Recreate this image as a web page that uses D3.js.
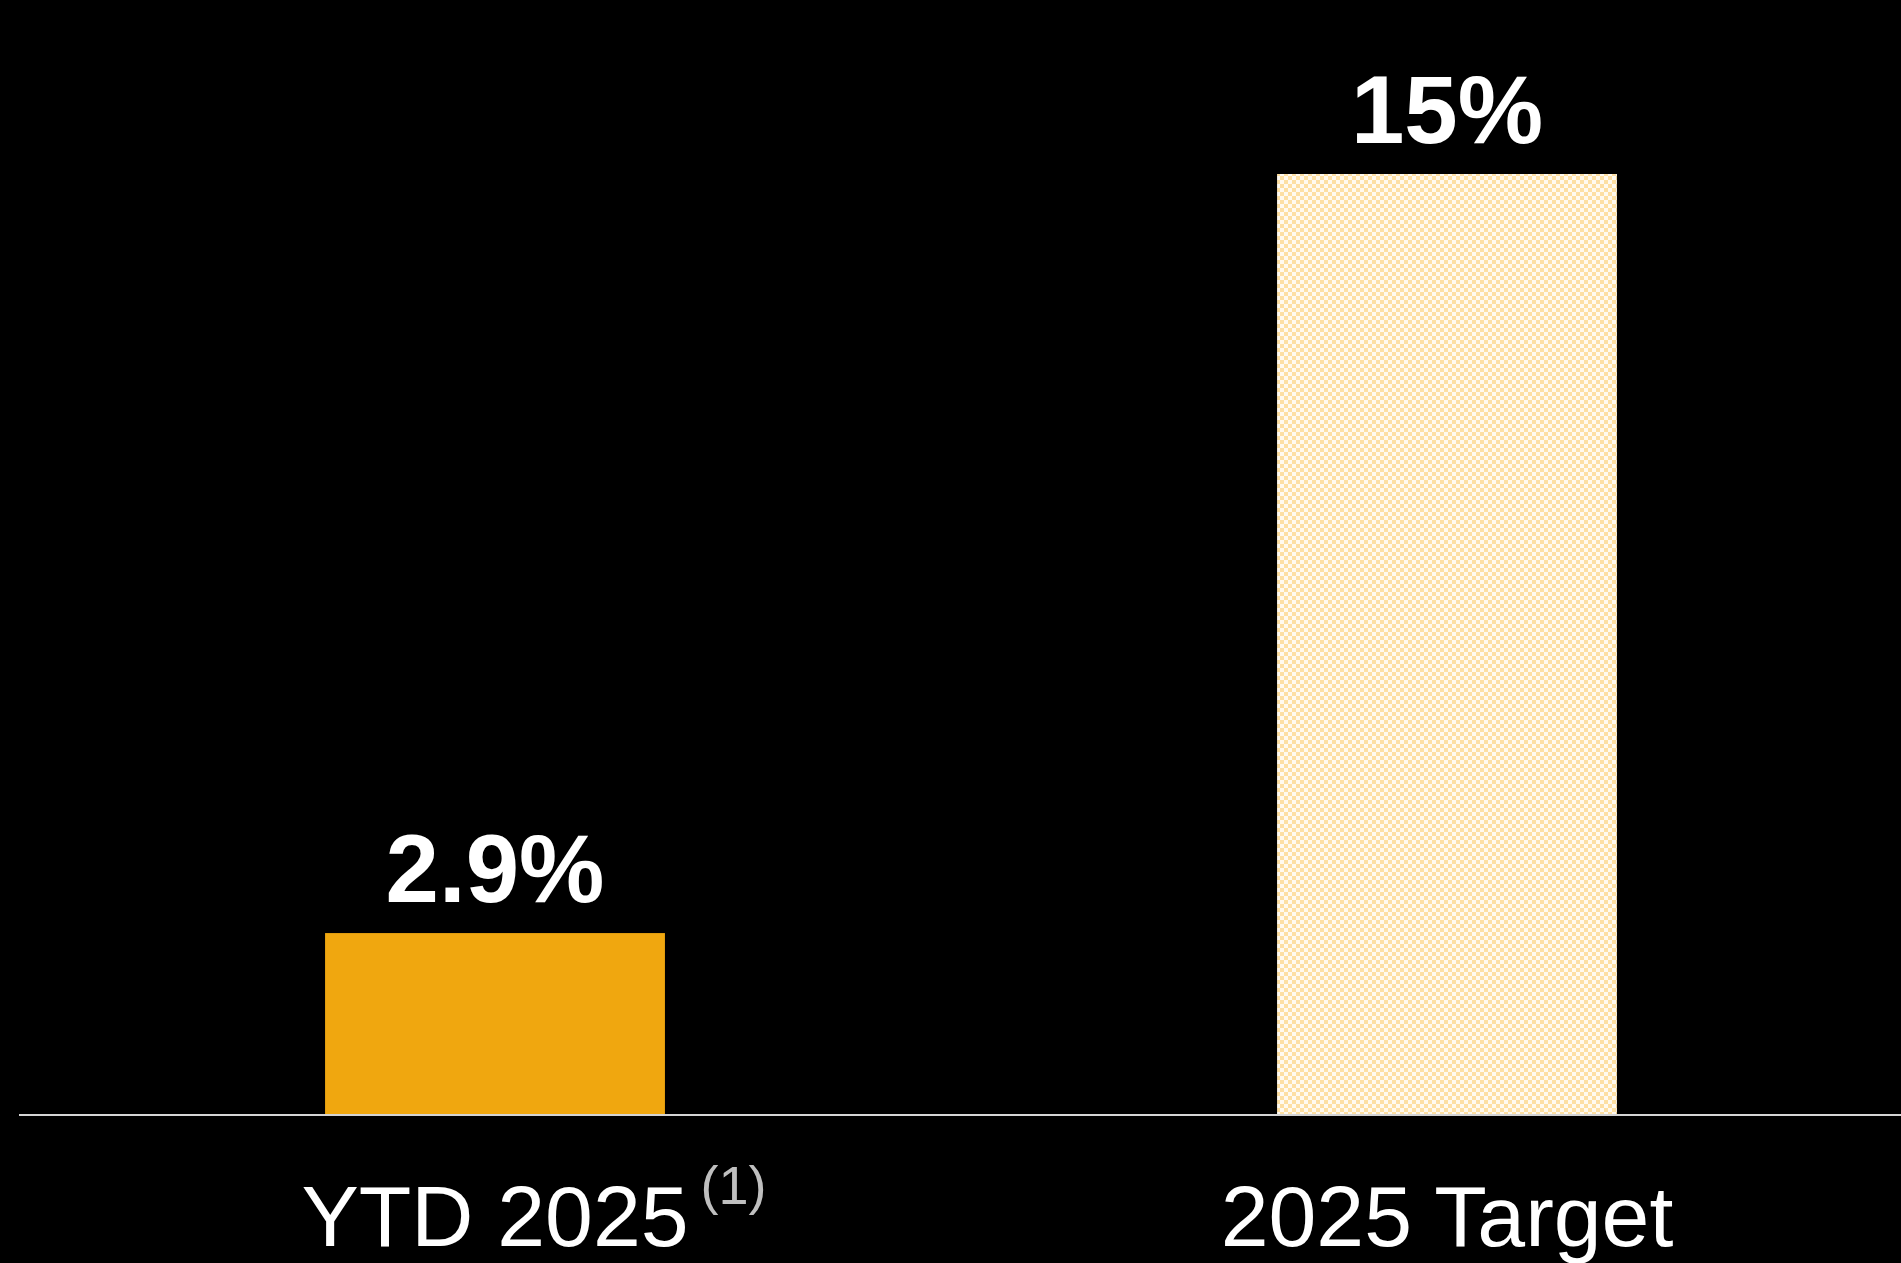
<!DOCTYPE html>
<html>
<head>
<meta charset="utf-8">
<script src="https://cdn.jsdelivr.net/npm/d3@7"></script>
<style>
  html, body { margin: 0; padding: 0; background: #000; }
  svg { display: block; }
</style>
</head>
<body>
<svg id="chart" width="1901" height="1263"></svg>
<script>
// data
var categories = ['YTD 2025', '2025 Target']
var values = [2.9, 15]
var valueLabels = ['2.9%', '15%']
var footnotes = ['(1)', '']

var width = 1901
var height = 1263
var baseY = 1115
var topY = 174

var svg = d3.select('#chart')

// checkered fill for the target bar
var defs = svg.append('defs')
var pat = defs.append('pattern')
	.attr('id', 'checks')
	.attr('patternUnits', 'userSpaceOnUse')
	.attr('width', 8)
	.attr('height', 8)
pat.append('rect').attr('width', 8).attr('height', 8).attr('fill', '#fffaf0')
pat.append('rect').attr('width', 4).attr('height', 4).attr('fill', '#fddfa3')
pat.append('rect').attr('x', 4).attr('y', 4).attr('width', 4).attr('height', 4).attr('fill', '#fddfa3')

var xscale = d3.scaleBand()
	.domain(categories)
	.range([19, 1923])
	.paddingInner(0.643)
	.paddingOuter(0.3215)

var yscale = d3.scaleLinear()
	.domain([0, 15])
	.range([baseY, topY])

var fills = ['#f0a70f', 'url(#checks)']

svg.selectAll('.bar')
	.data(values)
	.enter().append('rect')
		.attr('class', 'bar')
		.attr('x', (d, i) => xscale(categories[i]))
		.attr('y', d => yscale(d))
		.attr('width', xscale.bandwidth())
		.attr('height', d => baseY - yscale(d))
		.attr('fill', (d, i) => fills[i])

// baseline
var xAxis = svg.append('g')
	.attr('transform', 'translate(0,' + baseY + ')')
	.call(d3.axisBottom(xscale).tickSize(0).tickFormat(''))
xAxis.select('.domain')
	.attr('d', 'M19,0H' + width)
	.attr('stroke', '#d4d4d4')
	.attr('stroke-width', 2)

// value labels
svg.selectAll('.value')
	.data(values)
	.enter().append('text')
		.attr('class', 'value')
		.attr('x', (d, i) => xscale(categories[i]) + xscale.bandwidth() / 2)
		.attr('y', d => yscale(d) - 31)
		.attr('text-anchor', 'middle')
		.style('font-family', '"Liberation Sans", Arial, sans-serif')
		.style('font-weight', 'bold')
		.style('font-size', '96px')
		.attr('fill', '#ffffff')
		.text((d, i) => valueLabels[i])

// category labels, with footnote marker after the first
categories.forEach(function(c, i) {
	var cx = xscale(c) + xscale.bandwidth() / 2
	var t = svg.append('text')
		.attr('x', cx)
		.attr('y', 1246)
		.attr('text-anchor', 'middle')
		.style('font-family', '"Liberation Sans", Arial, sans-serif')
		.style('font-size', '86px')
		.attr('fill', '#ffffff')
		.text(c)
	if (footnotes[i] != '') {
		var len = t.node().getComputedTextLength()
		svg.append('text')
			.attr('x', cx + len / 2 + 12)
			.attr('y', 1204)
			.style('font-family', '"Liberation Sans", Arial, sans-serif')
			.style('font-size', '54px')
			.attr('fill', '#bfbfbf')
			.text(footnotes[i])
	}
})
</script>
</body>
</html>
